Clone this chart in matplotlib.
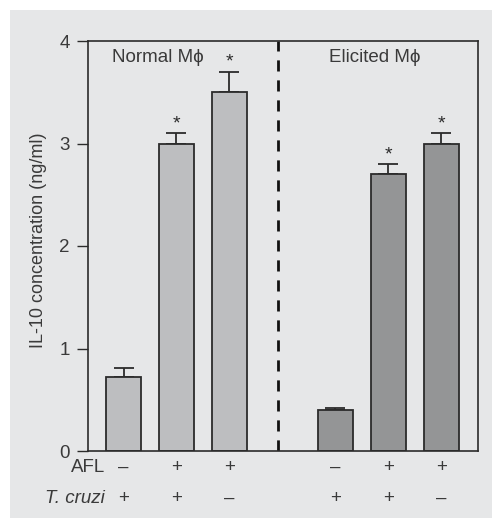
import matplotlib.pyplot as plt
from matplotlib.patches import Rectangle

# data
positions = [0, 1, 2, 4, 5, 6]
values = [0.72, 3.0, 3.5, 0.4, 2.7, 3.0]
errors = [0.09, 0.1, 0.2, 0.02, 0.1, 0.1]
significant = [False, True, True, False, True, True]
afl_signs = ['\u2013', '+', '+', '\u2013', '+', '+']
cruzi_signs = ['+', '+', '\u2013', '+', '+', '\u2013']
group_labels = ['Normal M\u03d5', 'Elicited M\u03d5']
bar_colors = ['#bdbec0'] * 3 + ['#949596'] * 3

plt.rcParams['font.family'] = ['Liberation Sans', 'DejaVu Sans']
ink = '#2b2b2b'
txt = '#3a3a3a'
fs = 13.5

fig = plt.figure(figsize=(4.92, 5.18), dpi=100)
fig.patch.set_facecolor('white')
fig.patches.append(Rectangle((10 / 492, 0), 1, 508 / 518, transform=fig.transFigure,
                             facecolor='#e6e7e8', edgecolor='none', zorder=-10))

ax = fig.add_axes([88 / 492, 67 / 518, 390 / 492, 410 / 518])
ax.set_facecolor('none')

ax.bar(positions, values, width=0.66, color=bar_colors, edgecolor=ink, linewidth=1.3, zorder=2)
ax.errorbar(positions, values, yerr=[[0] * 6, errors], fmt='none', ecolor=ink,
            elinewidth=1.3, capsize=7, capthick=1.3, zorder=1)
for x, v, e, s in zip(positions, values, errors, significant):
    if s:
        ax.text(x, v + e + 0.01, '*', ha='center', va='bottom', fontsize=14, color=ink)

ax.axvline(2.915, color='#111111', linestyle=(0, (4, 3.2)), linewidth=2)

ax.set_xlim(-0.67, 6.69)
ax.set_ylim(0, 4)
ax.set_yticks([0, 1, 2, 3, 4])
ax.set_xticks([])
ax.tick_params(axis='y', direction='out', length=8, width=1, colors=ink,
               labelsize=fs, pad=5)
for t in ax.get_yticklabels():
    t.set_color(txt)
for sp in ax.spines.values():
    sp.set_color(ink)
    sp.set_linewidth(1.2)

ax.set_ylabel('IL-10 concentration (ng/ml)', fontsize=13, color=txt)
ax.yaxis.set_label_coords(-0.105, 0.515)

ax.text(0.65, 3.84, group_labels[0], ha='center', va='center', fontsize=fs, color=txt)
ax.text(4.75, 3.84, group_labels[1], ha='center', va='center', fontsize=fs, color=txt)

# treatment rows under the axis
ax.text(-0.35, -0.041, 'AFL', transform=ax.get_xaxis_transform(), ha='right', va='center',
        fontsize=fs, color=txt)
ax.text(-0.35, -0.115, 'T. cruzi', transform=ax.get_xaxis_transform(), ha='right', va='center',
        fontsize=fs, color=txt, style='italic')
for x, a, c in zip(positions, afl_signs, cruzi_signs):
    ax.text(x, -0.041, a, transform=ax.get_xaxis_transform(), ha='center', va='center',
            fontsize=fs, color=txt)
    ax.text(x, -0.115, c, transform=ax.get_xaxis_transform(), ha='center', va='center',
            fontsize=fs, color=txt)

fig.savefig('out.png', dpi=100)
